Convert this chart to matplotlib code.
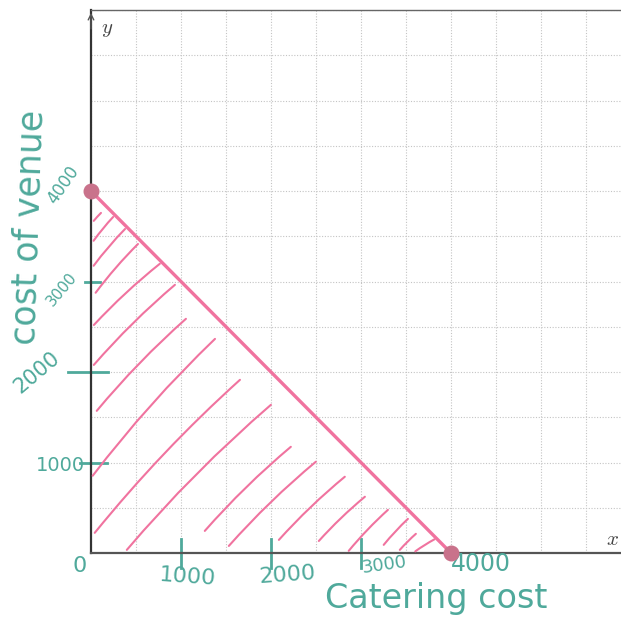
import matplotlib
matplotlib.use("Agg")
import matplotlib.pyplot as plt
import numpy as np
from matplotlib.patches import FancyArrowPatch

plt.rcParams["mathtext.fontset"] = "cm"

# budget line: catering + venue = 4000
line_x = [0, 4000]
line_y = [4000, 0]
grid_step = 500
x_max, y_max = 6000, 6000

tick_vals = [1000, 2000, 3000]
x_labels = ["0", "1000", "2000", "3000", "4000"]
y_labels = ["1000", "2000", "3000", "4000"]
x_title = "Catering cost"
y_title = "cost of venue"

# hand-drawn shading strokes, (x0, y0, x1, y1) in data units
hatch = [
    (11, 3646, 133, 3779), (11, 3425, 267, 3735), (11, 3149, 400, 3602),
    (33, 2851, 544, 3436), (11, 2497, 789, 3215), (11, 2055, 956, 2983),
    (44, 1547, 1078, 2608), (0, 829, 1400, 2387), (22, 199, 1678, 1934),
    (378, 11, 2022, 1657), (1244, 221, 2244, 1193), (1511, 55, 2522, 1028),
    (2067, 122, 2844, 862), (2511, 110, 3067, 641), (2844, 0, 3322, 497),
    (3233, 66, 3544, 398), (3411, 11, 3633, 232), (3578, 0, 3844, 166),
]

TEAL = "#4fa99b"
PINK = "#f0739f"
DOT = "#c9728b"

fig = plt.figure(figsize=(6.21, 6.17), dpi=100)
ax = fig.add_axes([91 / 621, 64 / 617, 540 / 621, 543 / 617])
ax.set_xlim(0, x_max)
ax.set_ylim(0, y_max)

ax.set_xticks(np.arange(0, x_max + 1, grid_step))
ax.set_yticks(np.arange(0, y_max + 1, grid_step))
ax.tick_params(length=0, labelbottom=False, labelleft=False)
ax.grid(True, color="#c4c4c4", lw=0.8, ls=(0, (1, 1.5)))
ax.spines["right"].set_visible(False)
ax.spines["top"].set_color("#666666")
ax.spines["top"].set_linewidth(1.0)
ax.spines["left"].set_color("#333333")
ax.spines["left"].set_linewidth(1.6)
ax.spines["bottom"].set_color("#555555")
ax.spines["bottom"].set_linewidth(1.6)

# y axis arrow head
ax.annotate("", xy=(0, 1.0), xytext=(0, 0.96), xycoords="axes fraction",
            arrowprops=dict(arrowstyle="->", color="#555555", lw=1.0))
ax.text(0.03, 0.965, r"$y$", transform=ax.transAxes, fontsize=15,
        color="#444444", ha="center", va="center")
ax.text(0.965, 0.025, r"$x$", transform=ax.transAxes, fontsize=15,
        color="#444444", ha="center", va="center")

# shading
for x0, y0, x1, y1 in hatch:
    ax.add_patch(FancyArrowPatch((x0, y0), (x1, y1), arrowstyle="-",
                                 connectionstyle="arc3,rad=-0.04",
                                 color=PINK, lw=1.5, zorder=3))

ax.plot(line_x, line_y, color=PINK, lw=2.4, zorder=4)
ax.scatter(line_x, line_y, s=110, color=DOT, zorder=5, clip_on=False)

# hand-drawn ticks
xt = ax.get_xaxis_transform()
yt = ax.get_yaxis_transform()
for v in tick_vals:
    ax.plot([v, v], [-0.028, 0.025], color=TEAL, lw=2, transform=xt, clip_on=False)
ax.plot([-0.02, 0.03], [1000, 1000], color=TEAL, lw=2, transform=yt, clip_on=False)
ax.plot([-0.043, 0.032], [2000, 2000], color=TEAL, lw=2, transform=yt, clip_on=False)
ax.plot([-0.012, 0.017], [3000, 3000], color=TEAL, lw=2, transform=yt, clip_on=False)

# handwritten labels
kw = dict(color=TEAL, ha="center", va="center", clip_on=False)
ax.text(-122, -144, x_labels[0], fontsize=16, **kw)
ax.text(1067, -265, x_labels[1], fontsize=16, rotation=-4, **kw)
ax.text(2178, -243, x_labels[2], fontsize=16, rotation=4, **kw)
ax.text(3256, -133, x_labels[3], fontsize=13, rotation=8, **kw)
ax.text(4330, -120, x_labels[4], fontsize=17, **kw)
ax.text(-344, 972, y_labels[0], fontsize=14, **kw)
ax.text(-600, 1994, y_labels[1], fontsize=15, rotation=40, **kw)
ax.text(-322, 2912, y_labels[2], fontsize=11, rotation=50, **kw)
ax.text(-311, 4066, y_labels[3], fontsize=12, rotation=55, **kw)
ax.text(3830, -500, x_title, fontsize=24, **kw)
ax.text(-690, 3600, y_title, fontsize=25, rotation=88, **kw)

fig.savefig("out.png", dpi=100)
